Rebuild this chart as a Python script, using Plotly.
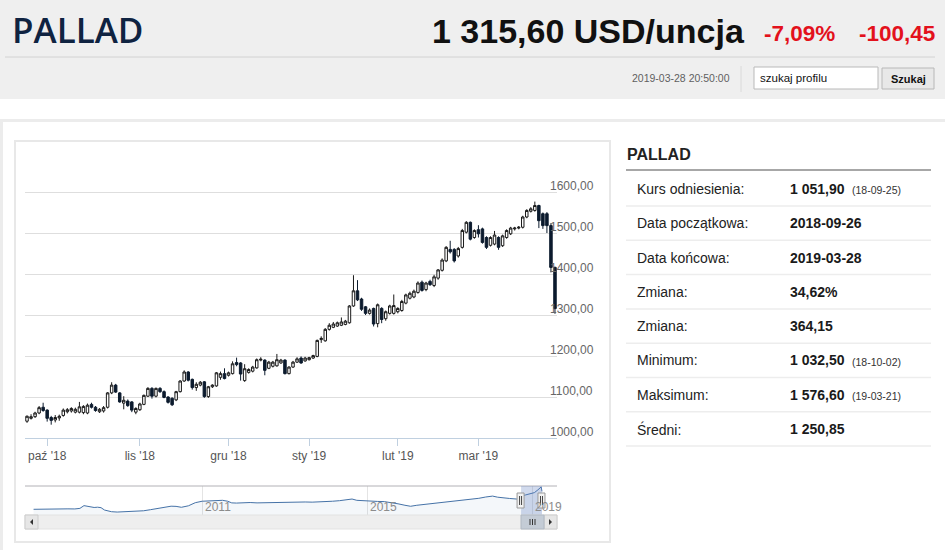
import pandas as pd
import plotly.graph_objects as go

W, H = 945, 550

# trading days shown on the ordinal axis (weekends, 25 Dec and 1 Jan skipped)
days = pd.bdate_range("2018-09-24", "2019-03-28")
days = days[~days.isin(pd.to_datetime(["2018-12-25", "2019-01-01"]))]
dates = [d.strftime("%Y-%m-%d") for d in days]

opens = [
    1041, 1048, 1052, 1061, 1075, 1068, 1050, 1044, 1049, 1055,
    1064, 1066, 1063, 1063, 1062, 1061, 1082, 1075, 1064, 1066,
    1075, 1110, 1129, 1110, 1085, 1090, 1088, 1063, 1069, 1082,
    1102, 1121, 1102, 1121, 1113, 1100,
    1097, 1093, 1113, 1139, 1161, 1143, 1123, 1129, 1137, 1101,
    1125, 1127, 1148, 1157, 1153, 1157, 1184, 1183, 1140, 1160,
    1163, 1171, 1190, 1190, 1170, 1175, 1176, 1183, 1190, 1157,
    1173, 1185, 1195, 1188, 1191,
    1195, 1199, 1240, 1237, 1265, 1270, 1273, 1275, 1277, 1281,
    1322, 1359, 1339, 1320, 1304, 1316, 1279, 1316, 1291, 1304,
    1304, 1308, 1311, 1329, 1341, 1344, 1355, 1380, 1362, 1382,
    1372, 1390, 1409,
    1432, 1460, 1460, 1444, 1465, 1502, 1526, 1489, 1508, 1510,
    1489, 1470, 1473, 1489, 1469, 1489, 1498, 1510, 1512, 1514,
    1539, 1553, 1555, 1567, 1547, 1547, 1518, 1416.05,
]
highs = [
    1055, 1058, 1064, 1078, 1086, 1070, 1054, 1056, 1057, 1072,
    1073, 1075, 1074, 1088, 1080, 1084, 1086, 1078, 1073, 1078,
    1112, 1136, 1132, 1112, 1102, 1094, 1090, 1075, 1086, 1106,
    1124, 1124, 1123, 1124, 1116, 1102,
    1099, 1115, 1141, 1165, 1163, 1145, 1136, 1139, 1139, 1127,
    1131, 1161, 1162, 1170, 1162, 1187, 1196, 1185, 1180, 1170,
    1176, 1194, 1197, 1192, 1188, 1188, 1205, 1193, 1192, 1175,
    1188, 1197, 1199, 1198, 1198,
    1203, 1240, 1248, 1268, 1280, 1283, 1284, 1294, 1288, 1324,
    1397, 1385, 1342, 1322, 1316, 1318, 1328, 1319, 1311, 1325,
    1350, 1319, 1337, 1352, 1357, 1362, 1382, 1384, 1381, 1386,
    1398, 1412, 1438,
    1468, 1481, 1463, 1466, 1510, 1529, 1528, 1509, 1519, 1513,
    1492, 1492, 1505, 1492, 1496, 1509, 1515, 1515, 1517, 1542,
    1558, 1563, 1576.6, 1569, 1550, 1551, 1524, 1418,
]
lows = [
    1037, 1045, 1049, 1058, 1064, 1040, 1032.5, 1038, 1042, 1052,
    1060, 1062, 1060, 1060, 1058, 1058, 1072, 1064, 1061, 1062,
    1072, 1107, 1110, 1086, 1070, 1076, 1063, 1058, 1066, 1080,
    1100, 1096, 1099, 1110, 1097, 1084,
    1078, 1090, 1111, 1137, 1138, 1118, 1115, 1126, 1098, 1098,
    1122, 1125, 1142, 1143, 1150, 1155, 1175, 1140, 1137, 1157,
    1160, 1169, 1187, 1153, 1168, 1172, 1174, 1181, 1155, 1155,
    1171, 1183, 1181, 1186, 1189,
    1193, 1197, 1232, 1235, 1262, 1268, 1271, 1273, 1275, 1279,
    1320, 1334, 1310, 1300, 1301, 1272, 1270, 1280, 1286, 1301,
    1301, 1304, 1308, 1326, 1338, 1341, 1352, 1357, 1358, 1371,
    1368, 1386, 1406,
    1429, 1450, 1428, 1440, 1462, 1499, 1482, 1486, 1489, 1474,
    1461, 1467, 1470, 1459, 1466, 1486, 1495, 1506, 1509, 1511,
    1536, 1550, 1552, 1512, 1510, 1500, 1404, 1303,
]
closes = [
    1053, 1051.9, 1061, 1074, 1067, 1048, 1043, 1050, 1053, 1068,
    1069, 1072, 1070, 1076, 1077, 1080, 1075, 1067, 1070, 1074,
    1110, 1129, 1112, 1088, 1092, 1079, 1068, 1072, 1083, 1104,
    1121, 1102, 1121, 1113, 1099, 1087,
    1081, 1113, 1139, 1161, 1141, 1123, 1131, 1136, 1101, 1125,
    1129, 1159, 1157, 1145, 1159, 1181, 1179, 1156, 1169, 1167,
    1173, 1191, 1192, 1165, 1185, 1185, 1191, 1190, 1157, 1173,
    1185, 1193, 1183, 1195, 1196,
    1201, 1238, 1243, 1265, 1275, 1278, 1281, 1283, 1285, 1322,
    1359, 1337, 1314, 1304, 1312, 1278, 1325, 1289, 1308, 1322,
    1323, 1316, 1333, 1349, 1353, 1358, 1378, 1360, 1378, 1374,
    1393, 1410, 1434,
    1465, 1454, 1432, 1462, 1506, 1526, 1485, 1506, 1498, 1477,
    1465, 1489, 1495, 1465, 1493, 1506, 1512, 1512, 1514, 1539,
    1555, 1559, 1567, 1530, 1518, 1518, 1416.05, 1315.6,
]

month_labels = ["paź '18", "lis '18", "gru '18", "sty '19", "lut '19", "mar '19"]
y_ticks = [1000, 1100, 1200, 1300, 1400, 1500, 1600, 1700]

# navigator (long history)
nav_dates = [
    "2006-12-01", "2007-02-01", "2007-04-01", "2007-06-01", "2007-08-01", "2007-10-01",
    "2007-12-01", "2008-01-15", "2008-02-20", "2008-03-20", "2008-04-20", "2008-05-20",
    "2008-06-20", "2008-07-20", "2008-08-20", "2008-09-20", "2008-10-20", "2008-12-10",
    "2009-02-01", "2009-04-01", "2009-06-01", "2009-08-01", "2009-10-01", "2009-12-01",
    "2010-02-01", "2010-04-01", "2010-05-15", "2010-07-01", "2010-09-01", "2010-11-01",
    "2011-01-01", "2011-03-01", "2011-05-01", "2011-07-01", "2011-08-15", "2011-09-20",
    "2011-11-01", "2012-01-01", "2012-03-01", "2012-05-01", "2012-07-01", "2012-09-01",
    "2012-11-01", "2013-01-01", "2013-03-01", "2013-05-01", "2013-07-01", "2013-09-01",
    "2013-11-01", "2014-01-01", "2014-03-01", "2014-05-01", "2014-07-01", "2014-08-20",
    "2014-10-01", "2014-12-01", "2015-02-01", "2015-04-01", "2015-06-01", "2015-08-01",
    "2015-10-01", "2015-12-01", "2016-01-20", "2016-03-15", "2016-05-15", "2016-07-15",
    "2016-09-15", "2016-11-15", "2017-01-15", "2017-03-15", "2017-05-15", "2017-07-15",
    "2017-09-15", "2017-11-15", "2017-12-20", "2018-01-15", "2018-03-01", "2018-04-15",
    "2018-06-15", "2018-08-15", "2018-09-24", "2018-11-01", "2018-12-15", "2019-01-20",
    "2019-02-20", "2019-03-21", "2019-03-28",
]
nav_values = [
    340, 350, 365, 370, 345, 365,
    360, 390, 540, 500, 450, 440,
    455, 430, 300, 240, 210, 190,
    205, 220, 245, 260, 320, 380,
    430, 510, 500, 450, 530, 700,
    780, 790, 800, 830, 780, 690,
    680, 700, 710, 690, 700, 690,
    700, 720, 750, 730, 740, 730,
    745, 740, 780, 810, 860, 900,
    830, 800, 785, 770, 760, 720,
    640, 560, 505, 560, 600, 670,
    700, 740, 760, 800, 830, 870,
    940, 1010, 1050, 1060, 1000, 960,
    930, 900, 1050, 1120, 1180, 1250,
    1400, 1560, 1316,
]
nav_years = ["2011", "2015", "2019"]

# header and info table
name = "PALLAD"
price_text = "1 315,60 USD/uncja"
change_pct = "-7,09%"
change_abs = "-100,45"
timestamp = "2019-03-28 20:50:00"
tbl_labels = ["Kurs odniesienia:", "Data początkowa:", "Data końcowa:", "Zmiana:",
              "Zmiana:", "Minimum:", "Maksimum:", "Średni:"]
tbl_values = ["1 051,90", "2018-09-26", "2019-03-28", "34,62%",
              "364,15", "1 032,50", "1 576,60", "1 250,85"]
tbl_dates = ["(18-09-25)", "", "", "", "", "(18-10-02)", "(19-03-21)", ""]

FONT = "Liberation Sans, Arial, sans-serif"


def px(x):
    return x / W


def py(y):
    return 1 - y / H


def rect(x0, y0, x1, y1, fill, line=None, lw=1, layer="above"):
    return dict(type="rect", xref="paper", yref="paper",
                x0=px(x0), x1=px(x1), y0=py(y1), y1=py(y0), fillcolor=fill,
                line=dict(color=line or fill, width=lw if line else 0), layer=layer)


def hline(x0, x1, y, color, lw=1):
    return dict(type="line", xref="paper", yref="paper", x0=px(x0), x1=px(x1),
                y0=py(y), y1=py(y), line=dict(color=color, width=lw))


def text(x, y, s, size, color="#222", bold=False, xanchor="left", family=FONT, weight=None):
    f = dict(size=size, color=color, family=family)
    if weight:
        f["weight"] = weight
    return dict(x=px(x), y=py(y), xref="paper", yref="paper",
                text=f"<b>{s}</b>" if bold else s, showarrow=False,
                xanchor=xanchor, yanchor="middle", font=f)


fig = go.Figure()

fig.add_trace(go.Candlestick(
    x=dates, open=opens, high=highs, low=lows, close=closes,
    increasing=dict(fillcolor="white", line=dict(color="#1a1a1a", width=1)),
    decreasing=dict(fillcolor="#0c1b2e", line=dict(color="#0c1b2e", width=1)),
    whiskerwidth=0, showlegend=False, xaxis="x", yaxis="y",
))

fig.add_trace(go.Scatter(
    x=nav_dates, y=nav_values, mode="lines",
    line=dict(color="#4572a7", width=1), fill="tozeroy",
    fillcolor="rgba(69,114,167,0.06)", showlegend=False,
    xaxis="x2", yaxis="y2", hoverinfo="skip",
))

# month ticks at the first trading day of every month
first_day = pd.Series(dates, index=days).groupby(days.to_period("M")).first()
tick_dates = list(first_day.values[1:])

shapes = [
    # page chrome
    rect(0, 0, 945, 99, "#efefef", layer="below"),
    hline(5, 935, 57, "#d2d2d2"),
    dict(type="line", xref="paper", yref="paper", x0=px(741), x1=px(741),
         y0=py(92), y1=py(66), line=dict(color="#dadada", width=1)),
    rect(754, 67, 878, 89, "white", "#b9b9b9"),
    rect(882, 68, 934, 89, "#e8e8e8", "#b8b8b8"),
    rect(0, 119, 945, 122, "#ececec", layer="below"),
    rect(0, 122, 3, 550, "#ececec", layer="below"),
    rect(15, 141, 610, 542, "white", "#e8e8e8", 2, layer="below"),
    # info table
    hline(626, 931, 170, "#8a8a8a", 1.5),
]
for i in range(len(tbl_labels)):
    shapes.append(hline(626, 931, 206 + i * 34.3, "#ededed", 1.5))

# navigator chrome
nav_top, nav_bot = 486, 515
shapes += [
    hline(25, 557, nav_top, "#b2b1b6"),
    dict(type="rect", xref="x2", yref="paper", x0=dates[0], x1=dates[-1],
         y0=py(nav_bot), y1=py(nav_top), fillcolor="rgba(102,133,194,0.3)",
         line=dict(width=0)),
]
for d in (dates[0], dates[-1]):
    shapes.append(dict(type="rect", xref="x2", yref="paper", xsizemode="pixel",
                       xanchor=d, x0=-4, x1=3, y0=py(508), y1=py(493),
                       fillcolor="#f2f2f2", line=dict(color="#999999", width=1)))
    for off in (-1.5, 0.5):
        shapes.append(dict(type="line", xref="x2", yref="paper", xsizemode="pixel",
                           xanchor=d, x0=off, x1=off, y0=py(505), y1=py(496),
                           line=dict(color="#444444", width=1)))

# scrollbar
shapes += [
    rect(25, nav_bot, 557, 529, "#eeeeee", "#e2e2e2"),
    rect(25, nav_bot, 38, 529, "#e6e6e6", "#cccccc"),
    rect(544, nav_bot, 557, 529, "#e6e6e6", "#cccccc"),
    rect(521, nav_bot, 544, 529, "#c4ccd6", "#b0b8c2"),
    dict(type="path", xref="paper", yref="paper",
         path=f"M {px(33)},{py(519)} L {px(33)},{py(525)} L {px(30)},{py(522)} Z",
         fillcolor="#333", line=dict(width=0)),
    dict(type="path", xref="paper", yref="paper",
         path=f"M {px(549)},{py(519)} L {px(549)},{py(525)} L {px(552)},{py(522)} Z",
         fillcolor="#333", line=dict(width=0)),
]
for xx in (530, 532.5, 535):
    shapes.append(dict(type="line", xref="paper", yref="paper", x0=px(xx), x1=px(xx),
                       y0=py(525), y1=py(519), line=dict(color="#333", width=1)))

annotations = [
    text(10, 29, name, 35, "#0f2341", family="Open Sans, sans-serif", weight=600),
    text(747, 31, price_text, 34, "#111111", bold=True, xanchor="right"),
    text(762, 33, change_pct, 22.5, "#e3111c", bold=True),
    text(937, 33, change_abs, 22.5, "#e3111c", bold=True, xanchor="right"),
    text(732, 78, timestamp, 10.5, "#5f5f5f", xanchor="right"),
    text(758, 78, "szukaj profilu", 11.5, "#111111"),
    text(908, 79, "Szukaj", 11, "#111111", bold=True, xanchor="center"),
    text(625, 154, name, 16, "#222222", bold=True),
]
for i, (lab, val, dt) in enumerate(zip(tbl_labels, tbl_values, tbl_dates)):
    yy = 189 + i * 34.3
    annotations.append(text(635, yy, lab, 14, "#222222"))
    annotations.append(text(788, yy, val, 14, "#1a1a1a", bold=True))
    if dt:
        annotations.append(text(850, yy + 1, dt, 10.5, "#333333"))
for yr in nav_years:
    annotations.append(dict(x=f"{yr}-01-01", y=py(507), xref="x2", yref="paper",
                            text=yr, showarrow=False, xanchor="left", yanchor="middle",
                            xshift=1, font=dict(size=12, color="#8c8c8c", family=FONT)))

y_text = [f"{v},00" if v < y_ticks[-1] else "" for v in y_ticks]

fig.update_layout(
    width=W, height=H, autosize=False,
    margin=dict(l=0, r=0, t=0, b=0),
    paper_bgcolor="white", plot_bgcolor="rgba(0,0,0,0)",
    font=dict(family=FONT, size=12, color="#555555"),
    showlegend=False,
    boxgap=0.12,
    xaxis=dict(
        type="category", domain=[px(25), px(557)], anchor="y",
        range=[-0.5, len(dates) - 0.5], rangeslider=dict(visible=False),
        tickmode="array", tickvals=tick_dates, ticktext=month_labels,
        ticks="outside", ticklen=7, tickcolor="#c0d0e0",
        showline=True, linecolor="#c0d0e0", linewidth=1,
        showgrid=False, zeroline=False, fixedrange=True,
        tickfont=dict(size=12, color="#555555", family=FONT),
    ),
    yaxis=dict(
        domain=[py(438), py(151)], anchor="x", side="right",
        range=[y_ticks[0], y_ticks[-1]],
        tickmode="array", tickvals=y_ticks, ticktext=y_text,
        showgrid=True, gridcolor="#dedede", gridwidth=1,
        zeroline=False, showline=False, ticks="",
        ticklabelstandoff=-8, ticklabelshift=-6,
        tickfont=dict(size=12, color="#666666", family=FONT),
    ),
    xaxis2=dict(
        type="date", domain=[px(25), px(557)], anchor="y2",
        range=["2006-09-16", "2019-08-08"],
        tickmode="array", tickvals=[f"{y}-01-01" for y in nav_years],
        showticklabels=False, ticks="", showgrid=True, gridcolor="#e4e4e4",
        showline=False, zeroline=False, fixedrange=True,
    ),
    yaxis2=dict(
        domain=[py(nav_bot), py(nav_top)], anchor="x2", range=[30, 1610],
        showticklabels=False, showgrid=False, zeroline=False, showline=False,
        fixedrange=True,
    ),
    shapes=shapes,
    annotations=annotations,
)

page_css = ("document.documentElement.style.cssText='margin:0;padding:0;overflow:hidden;height:550px';"
            "document.body.style.cssText='margin:0;padding:0;overflow:hidden;height:550px';")
fig.write_html("out.html", config={"displayModeBar": False}, post_script=page_css)
